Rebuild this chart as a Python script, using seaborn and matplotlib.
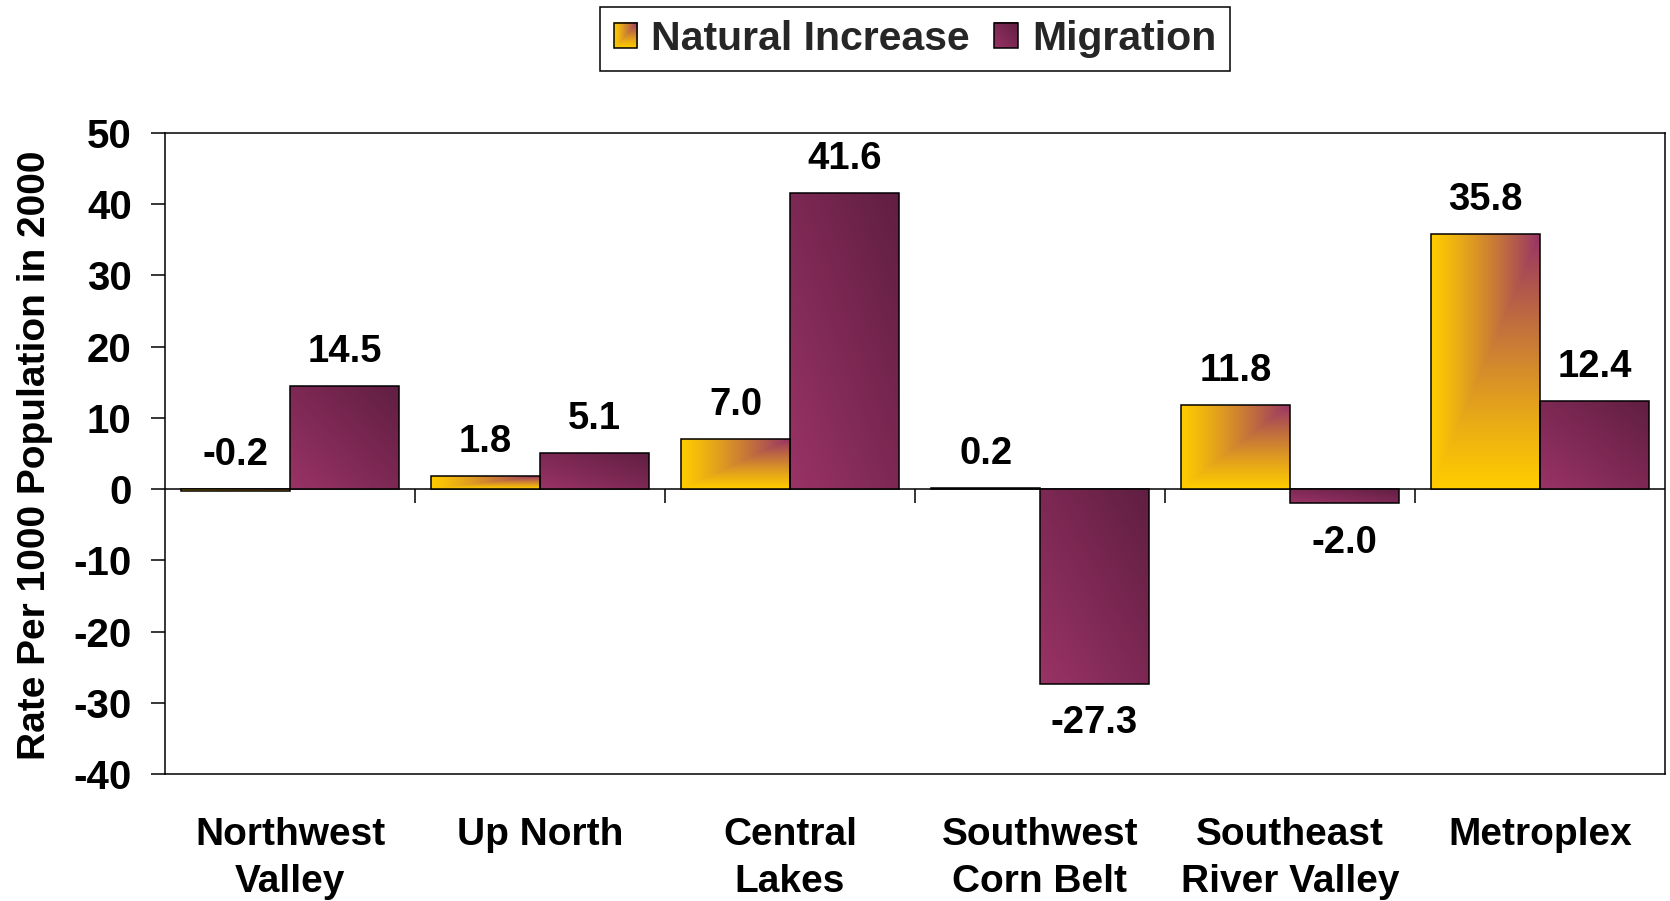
import numpy as np
import pandas as pd
import matplotlib
matplotlib.use("Agg")
import matplotlib.pyplot as plt
import seaborn as sns
from matplotlib.legend_handler import HandlerBase
from matplotlib.image import BboxImage
from matplotlib.transforms import Bbox, TransformedBbox
from matplotlib.patches import Rectangle

# ---------------- data ----------------
regions = ["Northwest\nValley", "Up North", "Central\nLakes",
           "Southwest\nCorn Belt", "Southeast\nRiver Valley", "Metroplex"]
natural_increase = [-0.2, 1.8, 7.0, 0.2, 11.8, 35.8]
migration = [14.5, 5.1, 41.6, -27.3, -2.0, 12.4]
series_names = ["Natural Increase", "Migration"]
y_ticks = [-40, -30, -20, -10, 0, 10, 20, 30, 40, 50]
y_label = "Rate Per 1000 Population in 2000"

df = pd.DataFrame({
    "Region": regions * 2,
    "Component": [series_names[0]] * len(regions) + [series_names[1]] * len(regions),
    "Rate": natural_increase + migration,
})

# ---------------- style ----------------
sns.set_theme(style="white")
plt.rcParams["font.family"] = ["Liberation Sans", "DejaVu Sans"]
plt.rcParams["font.weight"] = "bold"

YELLOW = np.array([255, 204, 0]) / 255
PURPLE = np.array([153, 51, 102]) / 255
DARK = np.array([96, 30, 66]) / 255


def grad_natural(n=200):
    u = np.linspace(0, 1, n)[None, :]
    v = np.linspace(0, 1, n)[:, None]
    d = np.maximum(1 - u, 1 - v)
    m = np.clip(1 - d, 0, 1) ** 1.15
    return YELLOW[None, None, :] * (1 - m[..., None]) + PURPLE[None, None, :] * m[..., None]


def grad_migration(n=200):
    u = np.linspace(0, 1, n)[None, :]
    v = np.linspace(0, 1, n)[:, None]
    t = (u + v) / 2
    return PURPLE[None, None, :] * (1 - t[..., None]) + DARK[None, None, :] * t[..., None]


gradients = [grad_natural(), grad_migration()]

fig = plt.figure(figsize=(16.7, 9.01), dpi=100)
W, H = 1670, 901
ax = fig.add_axes([165 / W, 1 - 774 / H, (1665 - 165) / W, (774 - 133) / H])

sns.barplot(data=df, x="Region", y="Rate", hue="Component", order=regions,
            hue_order=series_names, palette=["#FFCC00", "#993366"],
            width=0.87, gap=0, edgecolor="black", linewidth=1.1,
            saturation=1, errorbar=None, legend=False, ax=ax)

# gradient fills clipped to each bar
for cont, img in zip(ax.containers, gradients):
    for patch in cont.patches:
        x0 = patch.get_x()
        w = patch.get_width()
        y0 = patch.get_y()
        h = patch.get_height()
        lo, hi = min(y0, y0 + h), max(y0, y0 + h)
        im = ax.imshow(img, extent=(x0, x0 + w, lo, hi), origin="lower",
                       aspect="auto", interpolation="bilinear",
                       zorder=patch.get_zorder() - 0.05)
        im.set_clip_path(patch)
        patch.set_facecolor("none")
        patch.set_zorder(patch.get_zorder() + 0.1)

# data labels
for cont, vals in zip(ax.containers, [natural_increase, migration]):
    for patch, v in zip(cont.patches, vals):
        cx = patch.get_x() + patch.get_width() / 2
        if v >= -1:
            ax.annotate(f"{v:.1f}", xy=(cx, max(v, 0)), xytext=(0, 24.5),
                        textcoords="offset points", ha="center", va="center",
                        fontsize=27.5, fontweight="bold", color="black")
        else:
            ax.annotate(f"{v:.1f}", xy=(cx, v), xytext=(0, -28.5),
                        textcoords="offset points", ha="center", va="center",
                        fontsize=27.5, fontweight="bold", color="black")

# zero line with category-boundary tick marks
ax.axhline(0, color="black", lw=1.1, zorder=0.8)
boundaries = np.arange(0.5, len(regions) - 0.5, 1.0)
ax.plot(boundaries, np.zeros_like(boundaries), linestyle="none", marker=3,
        markersize=10, markeredgewidth=1.1, color="black", zorder=0.8)

ax.set_xlim(-0.5, len(regions) - 0.5)
ax.set_ylim(-40, 50)
ax.set_yticks(y_ticks)
ax.set_yticklabels([str(t) for t in y_ticks])
ax.set_xlabel("")
ax.set_ylabel(y_label, fontsize=28, fontweight="bold", color="black")
ax.yaxis.set_label_coords((35 - 165) / 1500, (774 - 455) / 641)
ax.yaxis.label.set_verticalalignment("center")

ax.tick_params(axis="y", direction="out", length=10, width=1.1, pad=14,
               labelsize=29, colors="black", left=True)
ax.tick_params(axis="x", length=0, pad=31, labelsize=28, colors="black")
for lab in ax.get_xticklabels():
    lab.set_fontweight("bold")
    lab.set_linespacing(1.38)
for lab in ax.get_yticklabels():
    lab.set_fontweight("bold")

for s in ax.spines.values():
    s.set_visible(True)
    s.set_color("black")
    s.set_linewidth(1.1)
ax.set_facecolor("white")


# legend with gradient squares
class GradHandler(HandlerBase):
    def __init__(self, img):
        super().__init__()
        self.img = img

    def create_artists(self, legend, orig_handle, xdescent, ydescent,
                       width, height, fontsize, trans):
        bb = Bbox.from_bounds(-xdescent, -ydescent, width, height)
        bim = BboxImage(TransformedBbox(bb, trans), interpolation="bilinear",
                        origin="lower")
        bim.set_data(self.img)
        rect = Rectangle((-xdescent, -ydescent), width, height, fill=False,
                         edgecolor="black", linewidth=1.1, transform=trans)
        return [bim, rect]


proxies = [Rectangle((0, 0), 1, 1) for _ in series_names]
leg = ax.legend(proxies, series_names,
                handler_map={p: GradHandler(g) for p, g in zip(proxies, gradients)},
                loc="center", bbox_to_anchor=(0.5, (774 - 39) / 641),
                ncol=2, frameon=True, fancybox=False, framealpha=1,
                edgecolor="black", borderpad=0.32, handlelength=0.58,
                handleheight=0.58, handletextpad=0.34, columnspacing=0.6,
                borderaxespad=0,
                prop={"family": "Liberation Sans", "weight": "bold", "size": 29.5})
leg.get_frame().set_linewidth(1.1)

fig.savefig("out.png", dpi=100, facecolor="white")
